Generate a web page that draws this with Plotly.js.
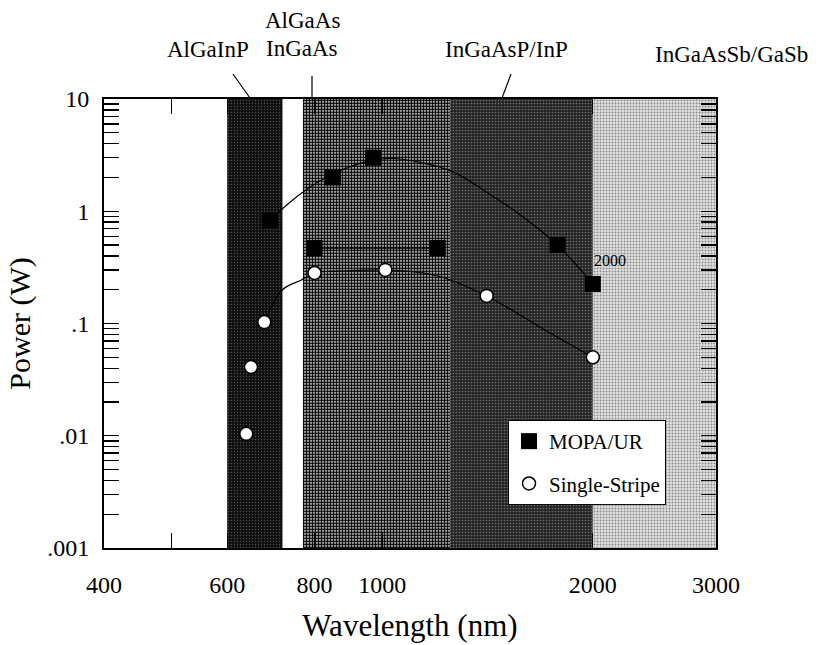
<!DOCTYPE html>
<html>
<head>
<meta charset="utf-8">
<script src="https://cdn.plot.ly/plotly-3.0.1.min.js"></script>
<style>html,body{margin:0;padding:0;background:#fff;}#chart{width:831px;height:645px;}</style>
</head>
<body>
<div id="chart"></div>
<script>
// ---- data ----
const mopaWavelength = [690, 850, 970, 800, 1200, 1780, 2000];
const mopaPower      = [0.83, 2.0, 3.0, 0.47, 0.47, 0.50, 0.225];

const singleWavelength = [639, 649, 678, 800, 1010, 1410, 2000];
const singlePower      = [0.0104, 0.041, 0.103, 0.282, 0.30, 0.176, 0.050];

const mopaFitWavelength = [690, 766, 850, 970, 1040, 1250, 1410, 1590, 1780, 2000];
const mopaFitPower      = [0.83, 1.45, 2.15, 2.85, 2.95, 2.3, 1.48, 0.89, 0.50, 0.225];

const singleFitWavelength = [678, 720, 766, 800, 900, 1010, 1200, 1410, 1700, 2000];
const singleFitPower      = [0.103, 0.20, 0.244, 0.282, 0.295, 0.30, 0.265, 0.176, 0.089, 0.050];

const midLineWavelength = [800, 1200];
const midLinePower      = [0.47, 0.47];

const bandNames = ['AlGaInP', 'AlGaAs/InGaAs', 'InGaAsP/InP', 'InGaAsSb/GaSb'];
const bandStart = [600, 770, 1250, 2000];
const bandEnd   = [720, 1250, 2000, 3000];

const xTickVals = [400, 500, 600, 800, 1000, 2000, 3000];
const xTickText = ['400', '', '600', '800', '1000', '2000', '3000'];
const yTickVals = [0.001, 0.01, 0.1, 1, 10];
const yTickText = ['.001', '.01', '.1', '1', '10'];

// ---- styles ----
const serif = 'Liberation Serif';
const bandStyles = [
  {bg: '#101010', fg: '#505050', size: 3, solidity: 0.15},
  {bg: '#ffffff', fg: '#000000', size: 3, solidity: 0.68},
  {bg: '#242424', fg: '#6e6e6e', size: 3, solidity: 0.25},
  {bg: '#e2e2e2', fg: '#8a8a8a', size: 3, solidity: 0.35}
];

const yMin = 0.001, yMax = 10;
const traces = [];
bandStart.forEach((s, i) => {
  const e = bandEnd[i];
  const st = bandStyles[i];
  traces.push({
    type: 'scatter', mode: 'lines',
    x: [s, e, e, s, s], y: [yMin, yMin, yMax, yMax, yMin],
    fill: 'toself', fillcolor: st.bg,
    fillpattern: {shape: '.', bgcolor: st.bg, fgcolor: st.fg, size: st.size, solidity: st.solidity},
    line: {width: 0, color: 'rgba(0,0,0,0)'},
    name: bandNames[i], showlegend: false, hoverinfo: 'skip'
  });
});

traces.push({type: 'scatter', mode: 'lines', x: mopaFitWavelength, y: mopaFitPower,
  line: {color: '#000', width: 1.2, shape: 'spline', smoothing: 1}, showlegend: false, hoverinfo: 'skip'});
traces.push({type: 'scatter', mode: 'lines', x: singleFitWavelength, y: singleFitPower,
  line: {color: '#000', width: 1.2, shape: 'spline', smoothing: 1}, showlegend: false, hoverinfo: 'skip'});
traces.push({type: 'scatter', mode: 'lines', x: midLineWavelength, y: midLinePower,
  line: {color: '#000', width: 1.2}, showlegend: false, hoverinfo: 'skip'});

traces.push({type: 'scatter', mode: 'markers', name: 'MOPA/UR', legendgroup: 'a',
  x: mopaWavelength, y: mopaPower,
  marker: {symbol: 'square', size: 16, color: '#000', line: {width: 0}}});
traces.push({type: 'scatter', mode: 'markers', name: 'Single-Stripe', legendgroup: 'b',
  x: singleWavelength, y: singlePower,
  marker: {symbol: 'circle', size: 13, color: '#fff', line: {width: 1.5, color: '#000'}}});

// minor y ticks
const yMinor = [];
for (let d = -3; d < 1; d++) for (let k = 2; k <= 9; k++) yMinor.push(k * Math.pow(10, d));

// paper-coordinate helpers for annotation placement
const L = 104, T = 99, W = 612, H = 449;
const px = X => (X - L) / W;
const py = Y => (T + H - Y) / H;

const labelFont = {family: serif, size: 23, color: '#000'};
const annotations = [
  {text: 'AlGaInP', x: px(208), y: py(50)},
  {text: 'AlGaAs', x: px(302), y: py(21)},
  {text: 'InGaAs', x: px(302), y: py(49)},
  {text: 'InGaAsP/InP', x: px(506), y: py(50)},
  {text: 'InGaAsSb/GaSb', x: px(731), y: py(55)}
].map(a => Object.assign(a, {xref: 'paper', yref: 'paper', showarrow: false, xanchor: 'center', yanchor: 'middle', font: labelFont}));

annotations.push({
  text: '2000', xref: 'x', yref: 'y',
  x: Math.log10(mopaWavelength[6]), y: Math.log10(mopaPower[6]),
  xshift: 17, yshift: 23, showarrow: false, xanchor: 'center', yanchor: 'middle',
  font: {family: serif, size: 16, color: '#000'}
});

const shapes = [
  {type: 'line', xref: 'paper', yref: 'paper', x0: px(233), y0: py(74), x1: px(250), y1: py(98), line: {color: '#000', width: 1.2}},
  {type: 'line', xref: 'paper', yref: 'paper', x0: px(312), y0: py(76), x1: px(312), y1: py(98), line: {color: '#000', width: 1.2}},
  {type: 'line', xref: 'paper', yref: 'paper', x0: px(511), y0: py(74), x1: px(502), y1: py(98), line: {color: '#000', width: 1.2}}
];

const axisCommon = {
  type: 'log', showgrid: false, zeroline: false,
  showline: true, linecolor: '#000', linewidth: 2, mirror: 'allticks',
  ticks: 'inside', ticklen: 15, tickwidth: 1.3, tickcolor: '#000',
  tickfont: {family: serif, size: 24, color: '#000'},
  layer: 'above traces'
};

const layout = {
  width: 831, height: 645,
  margin: {l: L, r: 831 - L - W, t: T, b: 645 - T - H},
  paper_bgcolor: '#fff', plot_bgcolor: '#fff',
  font: {family: serif, color: '#000'},
  xaxis: Object.assign({}, axisCommon, {
    range: [Math.log10(400), Math.log10(3000)],
    tickmode: 'array', tickvals: xTickVals, ticktext: xTickText,
    ticklabelstandoff: 14,
    title: {text: 'Wavelength (nm)', font: {family: serif, size: 31, color: '#000'}, standoff: 18}
  }),
  yaxis: Object.assign({}, axisCommon, {
    range: [-3, 1],
    tickmode: 'array', tickvals: yTickVals, ticktext: yTickText,
    ticklabelstandoff: 8,
    minor: {tickmode: 'array', tickvals: yMinor, ticks: 'inside', ticklen: 15, tickwidth: 1.3, tickcolor: '#000', showgrid: false},
    title: {text: 'Power (W)', font: {family: serif, size: 30, color: '#000'}, standoff: 8}
  }),
  legend: {
    x: px(508), y: py(420), xanchor: 'left', yanchor: 'top',
    bgcolor: '#fff', bordercolor: '#000', borderwidth: 1,
    font: {family: serif, size: 21, color: '#000'},
    tracegroupgap: 12, itemsizing: 'trace'
  },
  annotations: annotations,
  shapes: shapes,
  hovermode: false
};

Plotly.newPlot('chart', traces, layout, {staticPlot: true, displayModeBar: false});
</script>
</body>
</html>
